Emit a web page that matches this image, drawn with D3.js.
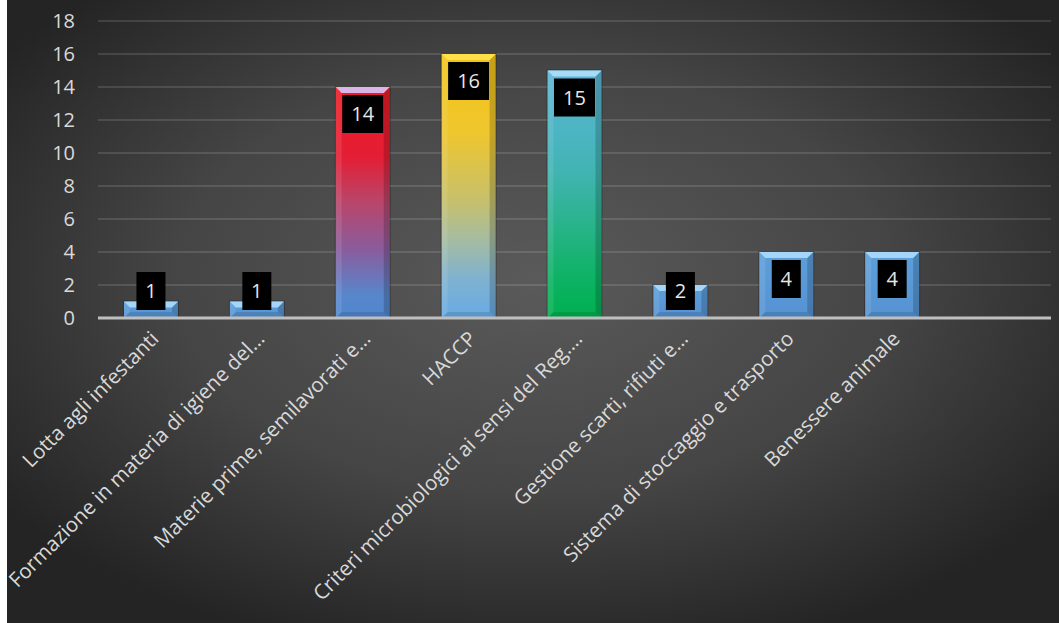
<!DOCTYPE html>
<html>
<head>
<meta charset="utf-8">
<script src="https://cdn.jsdelivr.net/npm/d3@7"></script>
<style>
  body { margin: 0; background: #ffffff; }
  svg { display: block; }
  text { font-family: "Open Sans", sans-serif; }
</style>
</head>
<body>
<div id="chart"></div>
<script>
// data
var categories = [
  'Lotta agli infestanti',
  'Formazione in materia di igiene del…',
  'Materie prime, semilavorati e…',
  'HACCP',
  'Criteri microbiologici ai sensi del Reg.…',
  'Gestione scarti, rifiuti e…',
  'Sistema di stoccaggio e trasporto',
  'Benessere animale',
  ''
]
var values = [1, 1, 14, 16, 15, 2, 4, 4, null]
var yTicks = [0, 2, 4, 6, 8, 10, 12, 14, 16, 18]

// per-bar fill styles (gradient stops, top bevel colour)
var blueStops = [[0, '#5d9fda'], [1, '#5592d2']]
var barStops = [
  blueStops,
  blueStops,
  [[0, '#ee1b26'], [0.3, '#e41e34'], [0.5, '#b8466a'], [0.7, '#8a5c9c'], [0.9, '#5886cb'], [1, '#4f88cf']],
  [[0, '#f3c416'], [0.3, '#eec62e'], [0.55, '#c8c06a'], [0.7, '#a6bca0'], [0.85, '#80b2d0'], [1, '#66abe5']],
  [[0, '#5cb6d8'], [0.4, '#42b4b4'], [0.65, '#26b386'], [0.85, '#0cb262'], [1, '#00b04f']],
  blueStops,
  blueStops,
  blueStops,
  blueStops
]
var bevelTop = ['#a3d6f8', '#a3d6f8', '#d9b6e8', '#ffe04a', '#a8dcf6', '#a3d6f8', '#a3d6f8', '#a3d6f8', '#a3d6f8']

var W = 1059, H = 623
var svg = d3.select('#chart').append('svg')
  .attr('width', W).attr('height', H)

var defs = svg.append('defs')
var bg = defs.append('radialGradient').attr('id', 'bg')
  .attr('cx', '50%').attr('cy', '45%').attr('r', '62%')
bg.append('stop').attr('offset', 0).attr('stop-color', '#5a5a5a')
bg.append('stop').attr('offset', 0.55).attr('stop-color', '#454545')
bg.append('stop').attr('offset', 1).attr('stop-color', '#242424')

barStops.forEach(function (stops, i) {
  var g = defs.append('linearGradient').attr('id', 'bar' + i)
    .attr('x1', 0).attr('y1', 0).attr('x2', 0).attr('y2', 1)
  stops.forEach(function (s) {
    g.append('stop').attr('offset', s[0]).attr('stop-color', s[1])
  })
})

svg.append('rect')
  .attr('x', 7).attr('y', 0)
  .attr('width', W - 7).attr('height', H)
  .attr('fill', 'url(#bg)')

// scales
var plotLeft = 98, plotRight = 1051, plotTop = 21, plotBottom = 318

var xScale = d3.scaleBand()
  .domain(categories.map(function (d, i) { return i }))
  .range([plotLeft, plotRight])
  .paddingInner(0.49)
  .paddingOuter(0.245)

var yScale = d3.scaleLinear()
  .domain([0, 18])
  .range([plotBottom, plotTop])

// grid
svg.append('g')
  .selectAll('line')
  .data(yTicks.filter(function (d) { return d > 0 }))
  .enter()
  .append('line')
  .attr('x1', plotLeft).attr('x2', plotRight)
  .attr('y1', function (d) { return yScale(d) })
  .attr('y2', function (d) { return yScale(d) })
  .attr('stroke', '#ffffff')
  .attr('stroke-opacity', 0.12)
  .attr('stroke-width', 2)

// y axis labels
var yAxis = svg.append('g')
  .attr('transform', 'translate(' + plotLeft + ',0)')
  .call(d3.axisLeft(yScale).tickValues(yTicks).tickSize(0).tickPadding(23))
yAxis.select('.domain').remove()
yAxis.selectAll('text')
  .attr('fill', '#d9d9d9')
  .style('font-size', '20px')
  .style('font-family', '"Open Sans", sans-serif')

// bars
var bars = svg.append('g')
var barData = values.map(function (v, i) { return { i: i, v: v } })
  .filter(function (d) { return d.v != null })

bars.selectAll('g.bar')
  .data(barData)
  .enter()
  .append('g')
  .attr('class', 'bar')
  .each(function (d) {
    var g = d3.select(this)
    var x0 = xScale(d.i), x1 = x0 + xScale.bandwidth()
    var y0 = yScale(d.v), y1 = yScale(0)
    var b = Math.min(6, (y1 - y0) / 2)
    var pts = function (p) { return p.map(function (q) { return q.join(',') }).join(' ') }

    g.append('rect')
      .attr('x', x0 - 1).attr('y', y0 - 1)
      .attr('width', x1 - x0 + 2).attr('height', y1 - y0 + 1)
      .attr('fill', '#000').attr('opacity', 0.25)
    g.append('rect')
      .attr('x', x0).attr('y', y0)
      .attr('width', x1 - x0).attr('height', y1 - y0)
      .attr('fill', 'url(#bar' + d.i + ')')
    // bevel
    g.append('polygon')
      .attr('points', pts([[x0, y0], [x0 + b, y0 + b], [x0 + b, y1 - b], [x0, y1]]))
      .attr('fill', '#ffffff').attr('opacity', 0.1)
    g.append('polygon')
      .attr('points', pts([[x1, y0], [x1, y1], [x1 - b, y1 - b], [x1 - b, y0 + b]]))
      .attr('fill', '#000000').attr('opacity', 0.18)
    g.append('polygon')
      .attr('points', pts([[x0, y1], [x0 + b, y1 - b], [x1 - b, y1 - b], [x1, y1]]))
      .attr('fill', '#000000').attr('opacity', 0.12)
    g.append('polygon')
      .attr('points', pts([[x0, y0], [x1, y0], [x1 - b, y0 + b], [x0 + b, y0 + b]]))
      .attr('fill', bevelTop[d.i])
  })

// value labels
var boxH = 38
var labels = svg.append('g')
  .selectAll('g.lbl')
  .data(barData)
  .enter()
  .append('g')
  .attr('class', 'lbl')
  .attr('transform', function (d) {
    var cx = xScale(d.i) + xScale.bandwidth() / 2
    var y = Math.min(yScale(d.v) + 8, yScale(0) - 8 - boxH)
    return 'translate(' + cx + ',' + y + ')'
  })
labels.append('rect')
  .attr('x', function (d) { return String(d.v).length > 1 ? -20.5 : -14.5 })
  .attr('width', function (d) { return String(d.v).length > 1 ? 41 : 29 })
  .attr('height', boxH)
  .attr('fill', '#000')
labels.append('text')
  .attr('x', 0).attr('y', 26)
  .attr('text-anchor', 'middle')
  .attr('fill', '#e6e6e6')
  .style('font-size', '20px')
  .text(function (d) { return d.v })

// axis line
svg.append('line')
  .attr('x1', plotLeft).attr('x2', plotRight)
  .attr('y1', yScale(0)).attr('y2', yScale(0))
  .attr('stroke', '#bfbfbf')
  .attr('stroke-width', 3)

// category labels
svg.append('g')
  .selectAll('text')
  .data(categories)
  .enter()
  .append('text')
  .attr('transform', function (d, i) {
    var cx = xScale(i) + xScale.bandwidth() / 2
    return 'translate(' + (cx + 9) + ',' + 340 + ') rotate(-45)'
  })
  .attr('text-anchor', 'end')
  .attr('fill', '#d9d9d9')
  .style('font-size', '20.5px')
  .text(function (d) { return d })
</script>
</body>
</html>
